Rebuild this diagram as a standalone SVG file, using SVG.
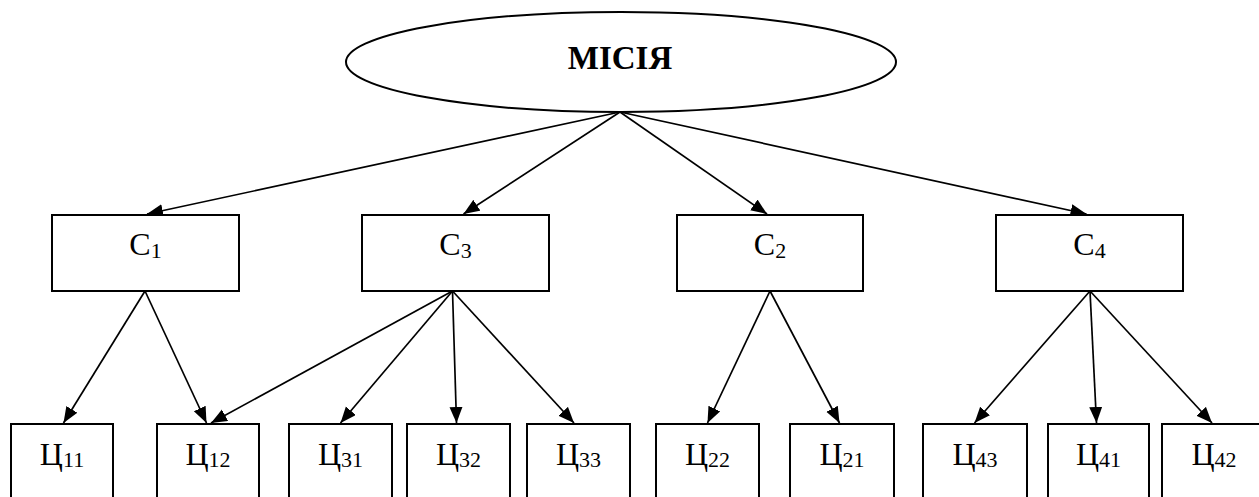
<svg xmlns="http://www.w3.org/2000/svg" width="1259" height="497" viewBox="0 0 1259 497">
<style>
.box{fill:#fff;stroke:#000;stroke-width:2}
.ell{fill:#fff;stroke:#000;stroke-width:2}
.lbl{font-family:"Liberation Serif","Times New Roman",serif;font-size:32px;fill:#000;text-anchor:middle}
.sub{font-size:22px}
.title{font-family:"Liberation Serif","Times New Roman",serif;font-size:33px;font-weight:bold;fill:#000;text-anchor:middle}
.conn line{stroke:#000;stroke-width:1.7;marker-end:url(#ah)}
</style>
<defs>
<marker id="ah" markerUnits="userSpaceOnUse" markerWidth="17" markerHeight="14" refX="16" refY="6.5" orient="auto">
<path d="M0,0 L16,6.5 L0,13 Z" fill="#000"/>
</marker>
</defs>
<rect width="1259" height="497" fill="#fff"/>
<g id="connectors" class="conn">
<line x1="620" y1="112" x2="147" y2="214"/>
<line x1="620" y1="112" x2="463.5" y2="214"/>
<line x1="620" y1="112" x2="767" y2="214"/>
<line x1="620" y1="112" x2="1086.5" y2="214"/>
<line x1="145" y1="291" x2="63.5" y2="423"/>
<line x1="145" y1="291" x2="206.5" y2="423"/>
<line x1="452.5" y1="291" x2="211" y2="423"/>
<line x1="452.5" y1="291" x2="340.5" y2="423"/>
<line x1="452.5" y1="291" x2="456.5" y2="423"/>
<line x1="452.5" y1="291" x2="574" y2="423"/>
<line x1="770" y1="291" x2="707.5" y2="423"/>
<line x1="770" y1="291" x2="839.5" y2="423"/>
<line x1="1090" y1="291" x2="974.5" y2="423"/>
<line x1="1090" y1="291" x2="1096.5" y2="423"/>
<line x1="1090" y1="291" x2="1212" y2="423"/>
</g>
<g id="mission">
<ellipse class="ell" cx="621" cy="62" rx="275" ry="50"/>
<text class="title" x="620" y="69">МІСІЯ</text>
</g>
<g id="c1"><rect class="box" x="52" y="215" width="187" height="76"/><text class="lbl" x="145.5" y="255">С<tspan class="sub" dy="3">1</tspan></text></g>
<g id="c3"><rect class="box" x="362" y="215" width="187" height="76"/><text class="lbl" x="455.5" y="255">С<tspan class="sub" dy="3">3</tspan></text></g>
<g id="c2"><rect class="box" x="677" y="215" width="186" height="76"/><text class="lbl" x="770" y="255">С<tspan class="sub" dy="3">2</tspan></text></g>
<g id="c4"><rect class="box" x="996" y="215" width="187" height="76"/><text class="lbl" x="1089.5" y="255">С<tspan class="sub" dy="3">4</tspan></text></g>
<g id="g11"><rect class="box" x="11" y="424" width="102" height="110"/><text class="lbl" x="62" y="465">Ц<tspan class="sub" dy="2">11</tspan></text></g>
<g id="g12"><rect class="box" x="157" y="424" width="102" height="110"/><text class="lbl" x="208" y="465">Ц<tspan class="sub" dy="2">12</tspan></text></g>
<g id="g31"><rect class="box" x="289" y="424" width="103" height="110"/><text class="lbl" x="340.5" y="465">Ц<tspan class="sub" dy="2">31</tspan></text></g>
<g id="g32"><rect class="box" x="407" y="424" width="103" height="110"/><text class="lbl" x="458.5" y="465">Ц<tspan class="sub" dy="2">32</tspan></text></g>
<g id="g33"><rect class="box" x="527" y="424" width="103" height="110"/><text class="lbl" x="578.5" y="465">Ц<tspan class="sub" dy="2">33</tspan></text></g>
<g id="g22"><rect class="box" x="656" y="424" width="103" height="110"/><text class="lbl" x="707.5" y="465">Ц<tspan class="sub" dy="2">22</tspan></text></g>
<g id="g21"><rect class="box" x="790" y="424" width="104" height="110"/><text class="lbl" x="842" y="465">Ц<tspan class="sub" dy="2">21</tspan></text></g>
<g id="g43"><rect class="box" x="923" y="424" width="104" height="110"/><text class="lbl" x="975" y="465">Ц<tspan class="sub" dy="2">43</tspan></text></g>
<g id="g41"><rect class="box" x="1048" y="424" width="101" height="110"/><text class="lbl" x="1098.5" y="465">Ц<tspan class="sub" dy="2">41</tspan></text></g>
<g id="g42"><rect class="box" x="1162" y="424" width="104" height="110"/><text class="lbl" x="1214" y="465">Ц<tspan class="sub" dy="2">42</tspan></text></g>
</svg>
